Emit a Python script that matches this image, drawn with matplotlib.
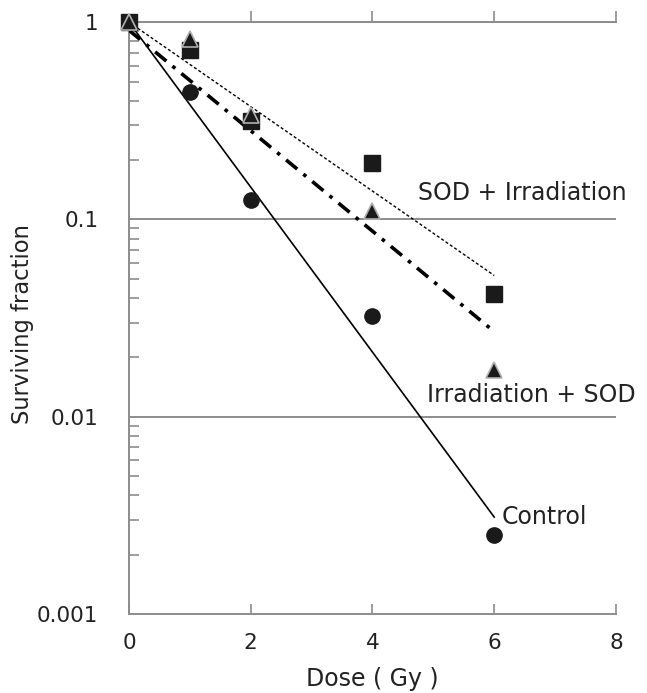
import numpy as np
import matplotlib.pyplot as plt
from matplotlib.ticker import FixedLocator, FixedFormatter, LogLocator, NullFormatter

# données
dose = [0, 1, 2, 4, 6]
control = [1.0, 0.443, 0.125, 0.0324, 0.0025]
sod_irr = [1.0, 0.72, 0.314, 0.194, 0.042]      # carrés
irr_sod = [1.0, 0.82, 0.34, 0.11, 0.0173]       # triangles

# droites d'ajustement (extrémités)
fit_x = [0, 6]
fit_control = [1.0, 0.0031]
fit_sod_irr = [1.0, 0.052]
fit_irr_sod = [0.91, 0.027]

yticks = [0.001, 0.01, 0.1, 1]
ytick_labels = ["0.001", "0.01", "0.1", "1"]
xticks = [0, 2, 4, 6, 8]

gris = "#8c8c8c"
texte = "#222222"

fig = plt.figure(figsize=(6.47, 6.93), dpi=100)
ax = fig.add_axes([0.1994, 0.114, 0.7526, 0.854])

ax.set_yscale("log")
ax.set_xlim(0, 8)
ax.set_ylim(0.001, 1)

# grille horizontale
for v in yticks[1:]:
    ax.axhline(v, color=gris, lw=1.4, zorder=1)

# droites
ax.plot(fit_x, fit_control, color="black", lw=1.2, zorder=3)
ax.plot(fit_x, fit_sod_irr, color="black", lw=1.0, linestyle=(0, (2.2, 1.6)), zorder=3)
ax.plot(fit_x, fit_irr_sod, color="black", lw=2.6, linestyle=(0, (4, 2.2, 1, 2.2)), zorder=3)

# points
ax.plot(dose, control, "o", color="#1a1a1a", ms=11, mec="#1a1a1a", zorder=4, clip_on=False)
ax.plot(dose, sod_irr, "s", color="#1a1a1a", ms=11, mec="#1a1a1a", zorder=4, clip_on=False)
ax.plot(dose, irr_sod, "^", color="#1a1a1a", ms=12, mec="#b0b0b0", mew=1.2, zorder=5, clip_on=False)

# étiquettes des courbes
ax.text(4.74, 0.136, "SOD + Irradiation", fontsize=17, color=texte, va="center")
ax.text(4.9, 0.0129, "Irradiation + SOD", fontsize=17, color=texte, va="center")
ax.text(6.13, 0.0031, "Control", fontsize=17, color=texte, va="center")

# axes
for s in ["right", "top"]:
    ax.spines[s].set_visible(False)
for s in ["left", "bottom"]:
    ax.spines[s].set_color(gris)
    ax.spines[s].set_linewidth(1.4)

ax.xaxis.set_major_locator(FixedLocator(xticks))
ax.set_xticklabels([str(t) for t in xticks])
ax.tick_params(axis="x", direction="in", length=7, width=1.2, color=gris,
               labelsize=15.5, labelcolor=texte, pad=14)

ax.yaxis.set_major_locator(FixedLocator(yticks))
ax.yaxis.set_major_formatter(FixedFormatter(ytick_labels))
ax.yaxis.set_minor_locator(LogLocator(base=10, subs=np.arange(2, 10)))
ax.yaxis.set_minor_formatter(NullFormatter())
ax.tick_params(axis="y", which="major", length=0, labelsize=15.5, labelcolor=texte, pad=22)
ax.tick_params(axis="y", which="minor", direction="in", length=7, width=1.2, color=gris)

# graduations du haut
top = ax.secondary_xaxis("top")
top.set_xticks([2, 4, 6, 8])
top.tick_params(direction="out", length=8, width=1.2, color=gris, labeltop=False)
top.spines["top"].set_color(gris)
top.spines["top"].set_linewidth(1.4)

ax.set_xlabel("Dose ( Gy )", fontsize=17, color=texte, labelpad=10)
ax.set_ylabel("Surviving fraction", fontsize=16.3, color=texte, labelpad=0)
ax.yaxis.set_label_coords(-0.195, 0.49)

fig.savefig("out.png", dpi=100)
